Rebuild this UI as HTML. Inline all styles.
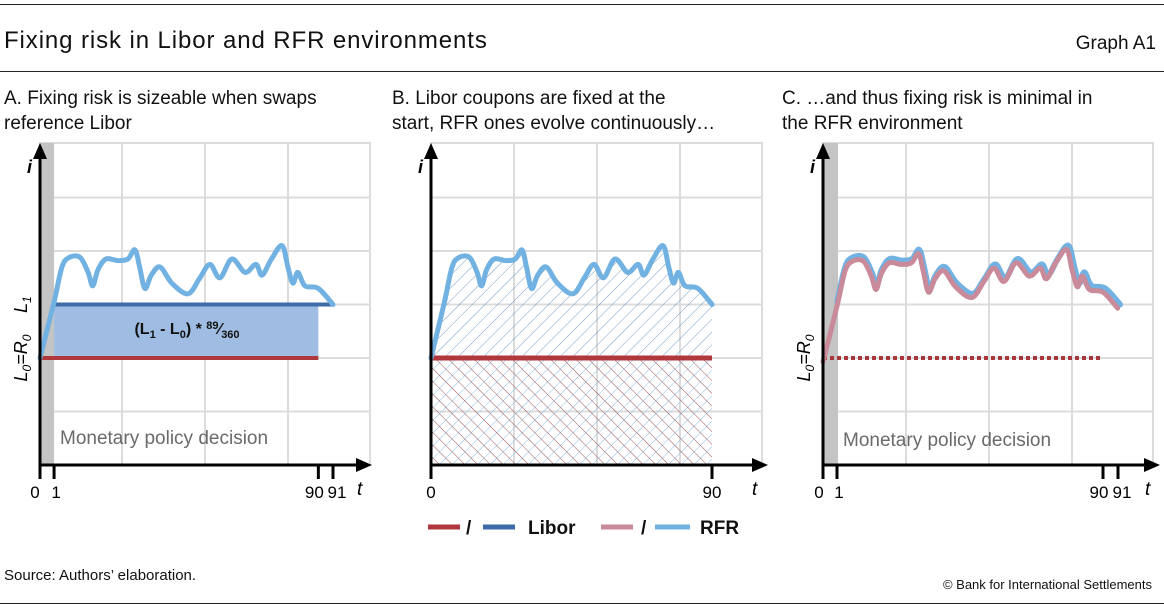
<!DOCTYPE html>
<html><head><meta charset="utf-8">
<style>
body{margin:0;background:#fff;width:1164px;height:610px;overflow:hidden;font-family:"Liberation Sans",sans-serif;}
.abs{position:absolute;white-space:nowrap;color:#111;}
</style></head>
<body>
<div class="abs" style="left:0;top:4px;width:1164px;height:1px;background:#222"></div>
<div class="abs" style="left:4px;top:27px;font-size:24px;letter-spacing:0.9px">Fixing risk in Libor and RFR environments</div>
<div class="abs" style="right:8px;top:33px;font-size:19px">Graph A1</div>
<div class="abs" style="left:0;top:71px;width:1164px;height:1px;background:#222"></div>
<div class="abs" style="left:4px;top:86px;font-size:19px;line-height:25px">A. Fixing risk is sizeable when swaps<br>reference Libor</div>
<div class="abs" style="left:392px;top:86px;font-size:19px;line-height:25px">B. Libor coupons are fixed at the<br>start, RFR ones evolve continuously…</div>
<div class="abs" style="left:782px;top:86px;font-size:19px;line-height:25px">C. …and thus fixing risk is minimal in<br>the RFR environment</div>
<div class="abs" style="left:4px;top:567px;font-size:15px">Source: Authors’ elaboration.</div>
<div class="abs" style="right:12px;top:577px;font-size:13px">© Bank for International Settlements</div>
<div class="abs" style="left:0;top:603px;width:1164px;height:1px;background:#222"></div>
<svg id="chart" width="1164" height="610" style="position:absolute;left:0;top:0" xmlns="http://www.w3.org/2000/svg">
<defs>
<pattern id="hatchBlue" width="9" height="9" patternUnits="userSpaceOnUse" patternTransform="rotate(45)"><line x1="0" y1="0" x2="0" y2="9" stroke="#4a7fb0" stroke-width="1" opacity="0.75"/></pattern>
<pattern id="hatchRed" width="9" height="9" patternUnits="userSpaceOnUse" patternTransform="rotate(-45)"><line x1="0" y1="0" x2="0" y2="9" stroke="#904048" stroke-width="1" opacity="0.9"/></pattern>
<pattern id="hatchBlue2" width="9" height="9" patternUnits="userSpaceOnUse" patternTransform="rotate(45)"><line x1="0" y1="0" x2="0" y2="9" stroke="#8fc0e8" stroke-width="1"/></pattern>
</defs>
</svg>
<script>
// RFR path: positions along the axis in schematic units (0..100) and rate levels
const rfrU = [0,4.8,7.5,10,13.7,16.4,18,19.8,22.5,26.6,30,32.4,34,35.8,38,41,45,50.5,54.6,58,61.4,65.5,70,73.7,75.8,79,82.6,84.6,86.3,88,90.4,95,100];
const rfrV = [2,3.05,3.7,3.88,3.88,3.6,3.35,3.65,3.85,3.82,3.85,4.02,3.7,3.3,3.55,3.7,3.4,3.2,3.5,3.75,3.5,3.85,3.6,3.75,3.55,3.85,4.1,3.7,3.4,3.6,3.35,3.3,3.0];
const liborL0 = 2, liborL1 = 3;
const yGrid = [1,2,3,4,5];
const tickLabelsA = ["0","1","90","91"];
const tickUA = [0,4.8,95,100];
const tickLabelsB = ["0","90"];
const tickUB = [0,100];

const svg = document.getElementById('chart');
const NS = 'http://www.w3.org/2000/svg';
function mk(tag, attrs, parent){const e=document.createElementNS(NS,tag);for(const k in attrs)e.setAttribute(k,attrs[k]);(parent||svg).appendChild(e);return e;}
const y0=465, unitY=53.5;
function Y(v){return y0 - v*unitY;}

function frame(ax, right, gridX, top){
  const g=mk('g',{});
  
  
  mk('rect',{x:ax,y:top,width:right-ax,height:y0-top,fill:'none',stroke:'#dcdcdc','stroke-width':2},g);
  yGrid.forEach(v=>{const l=mk('line',{x1:ax,x2:right,y1:Y(v),y2:Y(v),stroke:'#dcdcdc','stroke-width':2},g);
    
    });
  gridX.forEach(x=>{const l=mk('line',{x1:x,x2:x,y1:top,y2:y0,stroke:'#dcdcdc','stroke-width':2},g);
    
    });
}
function axes(ax, arrowEnd, top, tLabelX){
  const g=mk('g',{});
  
  
  mk('line',{x1:ax,x2:ax,y1:y0+12,y2:top+12,stroke:'#000','stroke-width':3},g);
  mk('polygon',{points:`${ax-7},${top+16} ${ax+7},${top+16} ${ax},${top}`,fill:'#000'},g);
  mk('line',{x1:ax,x2:arrowEnd-12,y1:y0,y2:y0,stroke:'#000','stroke-width':3},g);
  mk('polygon',{points:`${arrowEnd-16},${y0-7} ${arrowEnd-16},${y0+7} ${arrowEnd},${y0}`,fill:'#000'},g);
  const i=mk('text',{x:ax-13,y:top+30,'font-size':18,'font-style':'italic','font-weight':'bold',fill:'#000'},g);i.textContent='i';
  
  
  const t=mk('text',{x:tLabelX,y:y0+30,'font-size':19,'font-style':'italic',fill:'#000'},g);t.textContent='t';
  
  
}
function ticks(xs, labels, us, anchorShift){
  us.forEach((u,k)=>{const x=xs(u);
    const l=mk('line',{x1:x,x2:x,y1:y0,y2:y0+14,stroke:'#000','stroke-width':3});
    
    
    const t=mk('text',{x:x+(anchorShift?anchorShift[k]:0),y:y0+33,'font-size':17,'text-anchor':'middle',fill:'#000'});
    t.textContent=labels[k];
    
    });
}
function curvePath(xs, from, dv){
  const p=[];
  for(let k=from;k<rfrU.length;k++)p.push([xs(rfrU[k]),Y(rfrV[k]-dv)]);
  let d='M'+p[0][0].toFixed(1)+','+p[0][1].toFixed(1);
  for(let k=0;k<p.length-1;k++){
    const a=p[Math.max(k-1,0)],b=p[k],c=p[k+1],e=p[Math.min(k+2,p.length-1)];
    const c1=[b[0]+(c[0]-a[0])/6,b[1]+(c[1]-a[1])/6],c2=[c[0]-(e[0]-b[0])/6,c[1]-(e[1]-b[1])/6];
    d+=`C${c1[0].toFixed(1)},${c1[1].toFixed(1)} ${c2[0].toFixed(1)},${c2[1].toFixed(1)} ${c[0].toFixed(1)},${c[1].toFixed(1)}`;
  }
  return d;
}
function rotLabel(x,y,html,name){
  const t=mk('text',{x:0,y:0,'font-size':18,'font-style':'italic','text-anchor':'middle',transform:`translate(${x},${y}) rotate(-90)`,fill:'#000'});
  t.innerHTML=html;
  
  
}

// ---- Panel A ----
(function(){
  const ax=40, xs=u=>ax+u*2.93;
  frame(ax,370,[122,205,288],143);
  const band=mk('rect',{x:ax,y:143,width:xs(4.8)-ax,height:y0-143,fill:'#c4c4c4'});
  
  
  const fill=mk('rect',{x:xs(4.8),y:Y(liborL1),width:xs(95)-xs(4.8),height:Y(liborL0)-Y(liborL1),fill:'#9fbde2'});
  
  
  const red=mk('line',{x1:ax,x2:xs(95),y1:Y(liborL0),y2:Y(liborL0),stroke:'#b0383c','stroke-width':4});
  
  
  const blue=mk('line',{x1:xs(4.8),x2:xs(100),y1:Y(liborL1),y2:Y(liborL1),stroke:'#3e6ca8','stroke-width':4});
  
  
  const c=mk('path',{d:curvePath(xs,0,0),fill:'none',stroke:'#72b2e2','stroke-width':5,'stroke-linejoin':'round','stroke-linecap':'round'});
  
  
  const f=mk('text',{x:187,y:Y(2.45),'font-size':16,'font-weight':'bold','text-anchor':'middle',fill:'#111'});
  f.innerHTML='(L<tspan font-size="11" dy="4">1</tspan><tspan dy="-4"> - L</tspan><tspan font-size="11" dy="4">0</tspan><tspan dy="-4">) * </tspan><tspan font-size="11" dy="-5">89</tspan><tspan dy="5">⁄</tspan><tspan font-size="11" dy="4">360</tspan>';
  
  
  const m=mk('text',{x:60,y:444,'font-size':19,fill:'#6a6a6a'});m.textContent='Monetary policy decision';
  
  
  axes(ax,372,143,357);
  ticks(xs,tickLabelsA,tickUA,[-5,2,-4,4]);
  rotLabel(27,Y(liborL1),'L<tspan font-size="12" dy="4">1</tspan>','l1-label');
  rotLabel(27,Y(liborL0),'L<tspan font-size="12" dy="4">0</tspan><tspan dy="-4">=R</tspan><tspan font-size="12" dy="4">0</tspan>','l0-r0-label');
})();

// ---- Panel B ----
(function(){
  const ax=431, xs=u=>ax+u*2.81;
  frame(ax,762,[514,597,680],143);
  const top=curvePath(xs,0,0)+`L${xs(100)},${Y(liborL0)}L${ax},${Y(liborL0)}Z`;
  const a=mk('path',{d:top,fill:'url(#hatchBlue)',stroke:'none'});
  
  
  const b1=mk('rect',{x:ax,y:Y(liborL0),width:xs(100)-ax,height:y0-Y(liborL0),fill:'url(#hatchBlue2)'});
  
  
  const b2=mk('rect',{x:ax,y:Y(liborL0),width:xs(100)-ax,height:y0-Y(liborL0),fill:'url(#hatchRed)'});
  
  
  const red=mk('line',{x1:ax,x2:xs(100),y1:Y(liborL0),y2:Y(liborL0),stroke:'#b0383c','stroke-width':5});
  
  
  const c=mk('path',{d:curvePath(xs,0,0),fill:'none',stroke:'#72b2e2','stroke-width':5,'stroke-linejoin':'round','stroke-linecap':'round'});
  
  
  axes(ax,768,143,752);
  ticks(xs,tickLabelsB,tickUB,[0,0]);
  const lg=mk('g',{});
  
  
  const items=[[428,460,'#b0383c'],[483,515,'#3e6ca8'],[601,633,'#c98a99'],[655,690,'#72b2e2']];
  items.forEach(it=>mk('line',{x1:it[0],x2:it[1],y1:527,y2:527,stroke:it[2],'stroke-width':5},lg));
  [[466,'/'],[528,'Libor'],[641,'/'],[700,'RFR']].forEach(s=>{const t=mk('text',{x:s[0],y:534,'font-size':19,'font-weight':'bold',fill:'#111'},lg);t.textContent=s[1];});
})();

// ---- Panel C ----
(function(){
  const ax=823, xsB=u=>ax+u*2.97, xsP=u=>ax+u*(1103-823)/95;
  frame(ax,1153,[906,989,1072],143);
  const band=mk('rect',{x:ax,y:143,width:15,height:y0-143,fill:'#c4c4c4'});
  
  
  const red=mk('line',{x1:ax,x2:1103,y1:Y(liborL0),y2:Y(liborL0),stroke:'#a8383c','stroke-width':4,'stroke-dasharray':'4 3'});
  
  
  const b=mk('path',{d:curvePath(xsB,1,0),fill:'none',stroke:'#72b2e2','stroke-width':6,'stroke-linejoin':'round','stroke-linecap':'round'});
  
  
  const p=mk('path',{d:curvePath(xsP,0,0.07),fill:'none',stroke:'#c98a99','stroke-width':5,'stroke-linejoin':'round','stroke-linecap':'round'});
  
  
  const m=mk('text',{x:843,y:446,'font-size':19,fill:'#6a6a6a'});m.textContent='Monetary policy decision';
  
  
  axes(ax,1160,143,1145);
  const xt=u=>u===0?823:u===4.8?837:u===95?1103:1118;
  ticks(xt,tickLabelsA,tickUA,[-4,2,-4,4]);
  rotLabel(810,Y(liborL0),'L<tspan font-size="12" dy="4">0</tspan><tspan dy="-4">=R</tspan><tspan font-size="12" dy="4">0</tspan>','l0-r0-label');
})();
</script>
</body></html>
